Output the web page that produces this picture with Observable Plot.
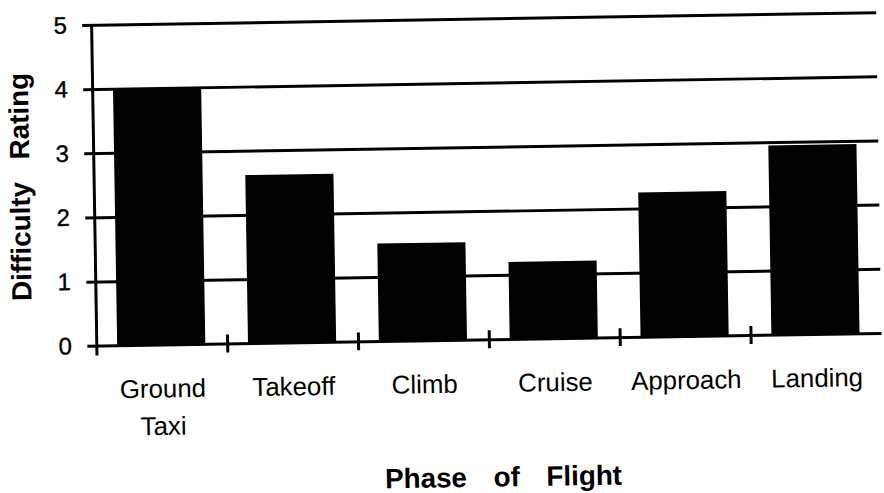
<!DOCTYPE html>
<html>
<head>
<meta charset="utf-8">
<script src="https://cdn.jsdelivr.net/npm/d3@7"></script>
<script src="https://cdn.jsdelivr.net/npm/@observablehq/plot@0.6"></script>
<style>
  html, body { margin: 0; padding: 0; background: #fff; overflow: hidden; width: 884px; height: 493px; }
  #chart svg { display: block; overflow: visible; transform: rotate(-0.93deg); transform-origin: 97px 348px; }
</style>
</head>
<body>
<div id="chart"></div>
<script>
const categories = ["Ground Taxi", "Takeoff", "Climb", "Cruise", "Approach", "Landing"];
const ratings = [4.0, 2.62, 1.52, 1.2, 2.25, 2.95];
const yTicks = [0, 1, 2, 3, 4, 5];
const xTitle = "Phase of Flight";
const yTitle = "Difficulty Rating";

const rows = categories.map((phase, i) => ({phase, i, rating: ratings[i]}));
const boundaries = d3.range(1, categories.length);

const chart = Plot.plot({
  width: 890,
  height: 520,
  marginLeft: 97,
  marginRight: 2.5,
  marginTop: 25,
  marginBottom: 172,
  x: {domain: [0, categories.length], axis: null},
  y: {domain: [0, 5], axis: null},
  style: {fontFamily: "'Liberation Sans', Arial, Helvetica, sans-serif", color: "#000", background: "#fff", overflow: "visible"},
  marks: [
    Plot.rectY(rows, {x1: "i", x2: d => d.i + 1, y: "rating", fill: "#000", insetLeft: 21, insetRight: 22}),
    Plot.ruleY(yTicks, {stroke: "#000", strokeWidth: 3, insetLeft: -9}),
    Plot.ruleX([0], {stroke: "#000", strokeWidth: 3, insetBottom: -10}),
    Plot.ruleX(boundaries, {x: d => d, y1: 0, y2: 0, insetTop: -9, insetBottom: -9, stroke: "#000", strokeWidth: 3}),
    Plot.text(yTicks, {y: d => d, frameAnchor: "left", dx: -25, textAnchor: "end", lineAnchor: "middle",
      text: d => String(d), fontSize: 24, fill: "#000", stroke: "#000", strokeWidth: 0.4}),
    Plot.text(rows, {x: d => d.i + 0.5, frameAnchor: "bottom", dy: 26, lineAnchor: "top",
      text: d => d.phase.replace(" ", "\n"), fontSize: 26, lineHeight: 1.45, fill: "#000"}),
    Plot.text([yTitle], {frameAnchor: "left", dx: -74, rotate: -90, textAnchor: "middle", lineAnchor: "middle",
      fontSize: 28, fontWeight: "bold", fill: "#000"}),
    Plot.text([xTitle], {frameAnchor: "bottom", dx: 12, dy: 128, lineAnchor: "top",
      fontSize: 28, fontWeight: "bold", fill: "#000"})
  ]
});

d3.select(chart).selectAll("text")
  .filter(function () { return this.textContent === xTitle; })
  .style("word-spacing", "19px");
d3.select(chart).selectAll("text")
  .filter(function () { return this.textContent === yTitle; })
  .style("word-spacing", "15px");

document.getElementById("chart").appendChild(chart);
</script>
</body>
</html>
